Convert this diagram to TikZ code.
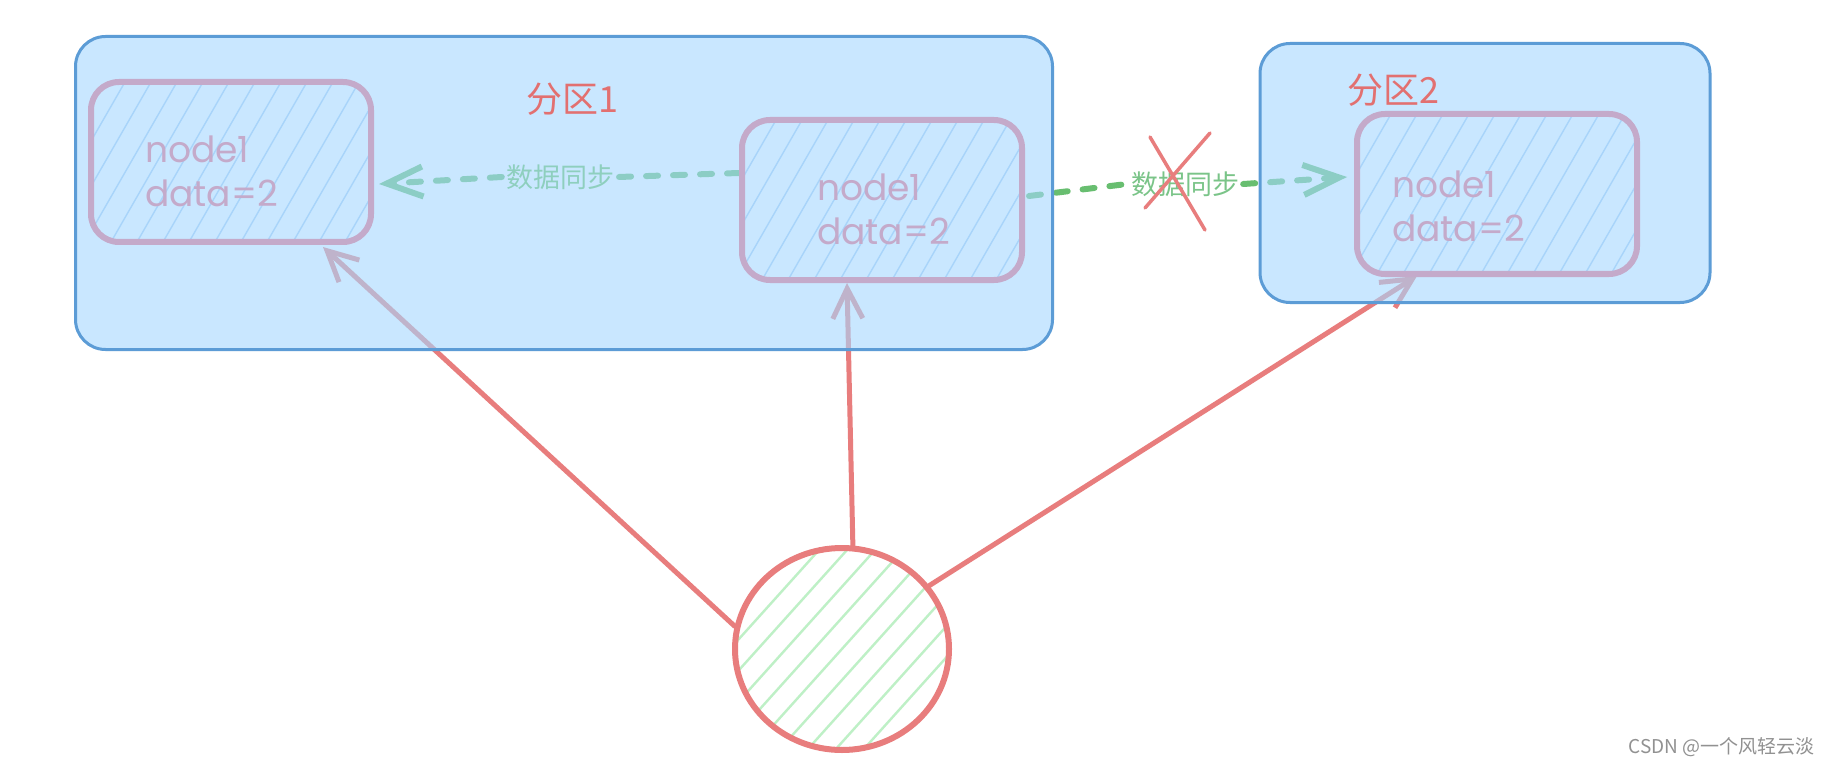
\documentclass[tikz,border=0pt]{standalone}
\usepackage{fontspec}
\newfontfamily\hand{Poppins}
\newfontfamily\cjk{Noto Sans CJK SC}
\usetikzlibrary{arrows.meta,calc,shapes.geometric}
\definecolor{boxblue}{RGB}{165,216,255}
\definecolor{boxline}{RGB}{92,156,214}
\definecolor{mauve}{RGB}{196,170,202}
\definecolor{hatchblue}{RGB}{168,212,250}
\definecolor{redline}{RGB}{232,125,125}
\definecolor{titlered}{RGB}{226,112,112}
\definecolor{syncgreen}{RGB}{104,190,112}
\definecolor{synteal}{RGB}{142,207,190}
\definecolor{labgreen}{RGB}{122,196,136}
\definecolor{hatchgreen}{RGB}{190,240,198}
\definecolor{wmgray}{RGB}{145,145,145}
\pgfdeclarelayer{back}
\pgfdeclarelayer{under}
\pgfsetlayers{back,under,main}
\begin{document}
\begin{tikzpicture}[x=1pt,y=-1pt,
 bigbox/.style={draw=boxline,line width=3pt,fill=boxblue,fill opacity=0.6,rounded corners=30pt,inner sep=0pt},
 innerbox/.style={draw=mauve,line width=6pt,rounded corners=28pt,minimum width=280pt,minimum height=160pt,inner sep=0pt,
   path picture={\foreach \k in {-500,-474,...,500}{\draw[hatchblue,line width=1.4pt] ([xshift=\k pt]path picture bounding box.south west) -- ++(230pt,400pt);}}},
 nodetext/.style={anchor=west,align=left,text=mauve,font=\hand\fontsize{36}{44}\selectfont,inner sep=0pt},
 title/.style={text=titlered,font=\cjk\fontsize{36}{42}\selectfont,inner sep=0pt},
 hit/.style={draw=redline,line width=5pt,line cap=round,-{Straight Barb[length=30pt,width=30pt,line width=5pt]}},
 sync/.style={line width=6pt,dash pattern=on 12pt off 15pt,line cap=round},
 synctip/.style={-{Straight Barb[length=36pt,width=30pt,line width=6pt]}},
 synclabel/.style={font=\cjk\fontsize{27}{32}\selectfont,inner sep=4pt},
]
\useasboundingbox (0,0) rectangle (1830,767);
\begin{pgfonlayer}{back}
\fill[white] (0,0) rectangle (1830,767);
\end{pgfonlayer}

% partitions
\node[bigbox,minimum width=977pt,minimum height=313pt] (P1) at (564,193) {};
\node[bigbox,minimum width=450pt,minimum height=259pt] (P2) at (1485,173) {};
\node[title] (T1) at (572,99) {分区1};
\node[title] (T2) at (1393,90) {分区2};

% inner nodes
\node[innerbox] (A) at (231,162) {};
\node[innerbox] (B) at (882,200) {};
\node[innerbox] (C) at (1497,194) {};
\node[nodetext] (tA) at (145,171) {node1\\data=2};
\node[nodetext] (tB) at (817,209) {node1\\data=2};
\node[nodetext] (tC) at (1392,206) {node1\\data=2};

% client circle
\node[ellipse,draw=redline,line width=6pt,fill=white,minimum width=214pt,minimum height=202pt,inner sep=0pt,
  path picture={\foreach \k in {-600,-572,...,600}{\draw[hatchgreen,line width=2.4pt] ([xshift=\k pt]path picture bounding box.south west) -- ++(360pt,400pt);}}] (c) at (842,649) {};

% sync labels
\node[synclabel,text=synteal] (L1) at (560,177) {数据同步};
\node[synclabel,text=labgreen] (L2) at (1185,184) {数据同步};

% cross
\coordinate (x1) at (1150,137);
\coordinate (x2) at (1205,230);
\coordinate (x3) at (1210,133);
\coordinate (x4) at (1145,208);
\draw[redline,line width=3.5pt,line cap=round] (x1) -- (x2);
\draw[redline,line width=3.5pt,line cap=round] (x3) -- (x4);

% watermark
\node[anchor=east,text=wmgray,font=\cjk\fontsize{19}{22}\selectfont,inner sep=0pt] (wm) at (1815,747) {CSDN @一个风轻云淡};

\begin{pgfonlayer}{under}
% access arrows
\draw[hit] (c.168) -- ($(A.south)+(92,2)$);
\draw[hit] (c.84) -- ($(B.south)+(-35,0)$);
\draw[hit] (c.36) -- ($(C.south)+(-80,-1)$);
% sync arrows
\draw[sync,syncgreen] ($(B.west)+(0,-27)$) -- (L1.east);
\draw[sync,syncgreen,synctip] (L1.west) -- ($(A.east)+(5,22)$);
\draw[sync,syncgreen] ($(B.east)+(4,-4)$) -- (L2.west);
\draw[sync,syncgreen,synctip] (L2.east) -- ($(C.west)+(-7,-17)$);
\end{pgfonlayer}
\end{tikzpicture}
\end{document}
